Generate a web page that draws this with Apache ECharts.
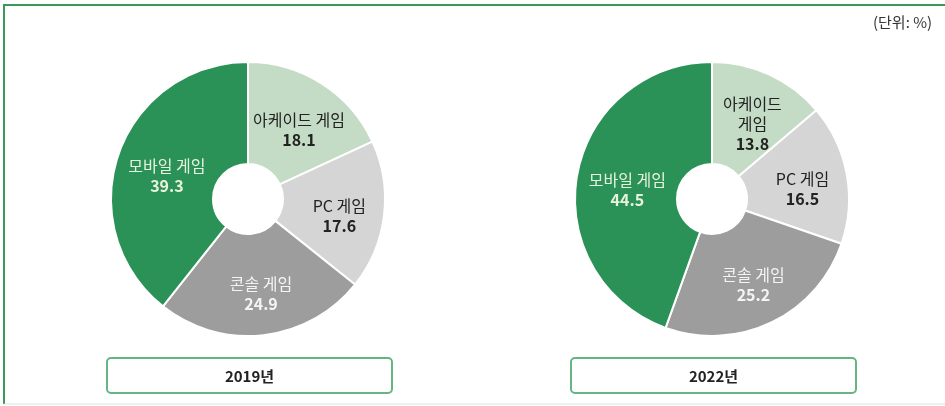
<!DOCTYPE html>
<html>
<head>
<meta charset="utf-8">
<script src="https://cdn.jsdelivr.net/npm/echarts@6/dist/echarts.min.js"></script>
<style>
  html, body { margin: 0; padding: 0; background: #fff; }
  #chart { width: 945px; height: 406px; }
</style>
</head>
<body>
<div id="chart"></div>
<script>
// 게임 플랫폼별 이용 비중
var categories = ['아케이드 게임', 'PC 게임', '콘솔 게임', '모바일 게임']
var years = ['2019년', '2022년']
var values2019 = [18.1, 17.6, 24.9, 39.3]
var values2022 = [13.8, 16.5, 25.2, 44.5]
var unitText = '(단위: %)'

var colors = ['#c4dbc5', '#d5d5d5', '#9d9d9d', '#2a9157']
var labelColors = ['#222', '#222', '#f4f4f4', '#e9f3dc']
var font = '"Noto Sans CJK KR", "Noto Sans", sans-serif'

function buildData(values) {
  return categories.map(function(name, i) {
    return {
      name: name,
      value: values[i],
      itemStyle: { color: colors[i] },
      label: { color: labelColors[i] }
    }
  })
}

function pieSeries(values, centerX, wrapArcade) {
  return {
    type: 'pie',
    center: [centerX, 199],
    radius: [35, 137],
    startAngle: 90,
    clockwise: true,
    animation: false,
    silent: true,
    itemStyle: { borderColor: '#fff', borderWidth: 2 },
    label: {
      show: true,
      position: 'inner',
      fontFamily: font,
      formatter: function(p) {
        var name = p.name
        if (wrapArcade && p.dataIndex === 0) name = name.replace(' ', '\n')
        return '{n|' + name + '}\n{v|' + p.value.toFixed(1) + '}'
      },
      rich: {
        n: { fontSize: 16, fontFamily: font, lineHeight: 20 },
        v: { fontSize: 16, fontWeight: 'bold', fontFamily: font, lineHeight: 20 }
      }
    },
    // 원본은 라벨이 살짝 아래쪽에 놓여 있음
    labelLayout: { dx: 3, dy: 6 },
    labelLine: { show: false },
    data: buildData(values)
  }
}

function yearBox(x, text) {
  return {
    type: 'group',
    children: [{
      type: 'rect',
      shape: { x: x, y: 358, width: 285, height: 35, r: 4 },
      style: { fill: '#fff', stroke: '#63b684', lineWidth: 2 }
    }, {
      type: 'text',
      x: x + 142.5,
      y: 376,
      style: {
        text: text, fontSize: 15, fontWeight: 'bold', fontFamily: font,
        fill: '#222', align: 'center', verticalAlign: 'middle'
      }
    }]
  }
}

var chart = echarts.init(document.getElementById('chart'))
chart.setOption({
  backgroundColor: '#fff',
  series: [
    pieSeries(values2019, 248, false),
    pieSeries(values2022, 712, true)
  ],
  graphic: [
    // 바깥 테두리
    {
      type: 'polyline',
      shape: { points: [[4, 404], [4, 5], [945, 5]] },
      style: { stroke: '#3a9a5c', lineWidth: 2, fill: null }
    },
    {
      type: 'line',
      shape: { x1: 4, y1: 404, x2: 945, y2: 404 },
      style: { stroke: '#d4e6da', lineWidth: 1 }
    },
    {
      type: 'text',
      x: 873,
      y: 22,
      style: {
        text: unitText, fontSize: 15, fontFamily: font,
        fill: '#333', verticalAlign: 'middle'
      }
    },
    yearBox(107, years[0]),
    yearBox(571, years[1])
  ]
})
</script>
</body>
</html>
